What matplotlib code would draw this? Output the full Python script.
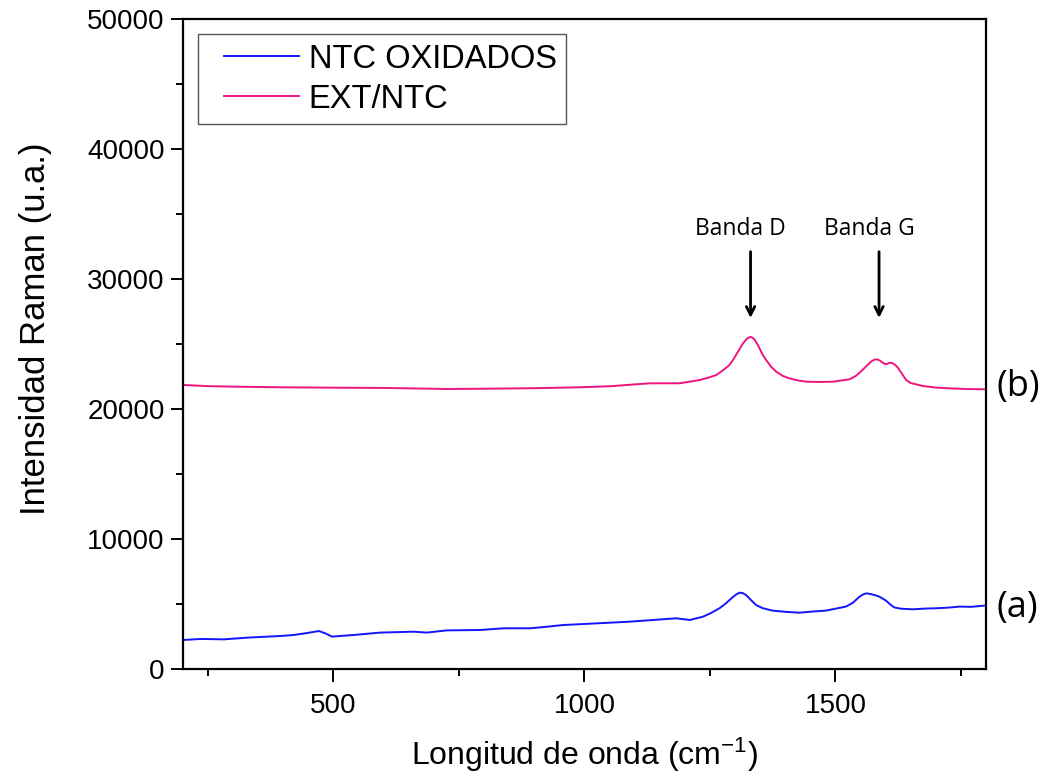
import matplotlib
matplotlib.use("Agg")
import matplotlib.pyplot as plt
from matplotlib.ticker import MultipleLocator
from matplotlib.legend_handler import HandlerLine2D

plt.rcParams["font.family"] = ["Liberation Sans", "DejaVu Sans"]
plt.rcParams["mathtext.fontset"] = "custom"
plt.rcParams["mathtext.rm"] = "Liberation Sans"
plt.rcParams["mathtext.it"] = "Liberation Sans:italic"

# Raman spectra: wavenumber (cm-1) and intensity (a.u.)
x_ox = [200, 236, 282, 328, 395, 421, 448, 471, 484, 497, 540, 593, 660, 686,
        726, 792, 839, 892, 925, 957, 1024, 1090, 1137, 1183, 1210, 1236, 1252,
        1269, 1282, 1293, 1302, 1309, 1316, 1322, 1332, 1342, 1355, 1375, 1400,
        1428, 1455, 1481, 1521, 1535, 1548, 1556, 1562, 1572, 1584, 1593, 1601,
        1609, 1617, 1630, 1654, 1680, 1700, 1725, 1747, 1770, 1796]
y_ox = [2230, 2310, 2280, 2410, 2540, 2615, 2770, 2920, 2740, 2490, 2615, 2800,
        2870, 2800, 2970, 3000, 3130, 3130, 3250, 3380, 3510, 3640, 3770, 3900,
        3770, 4020, 4300, 4670, 5050, 5440, 5720, 5870, 5830, 5690, 5300, 4920,
        4680, 4490, 4400, 4330, 4420, 4490, 4800, 5100, 5560, 5750, 5820, 5750,
        5620, 5450, 5250, 4980, 4740, 4640, 4590, 4650, 4670, 4720, 4800, 4780,
        4870]

x_ext = [200, 250, 300, 395, 500, 600, 726, 800, 900, 991, 1050, 1130, 1190,
         1230, 1250, 1263, 1275, 1288, 1296, 1305, 1316, 1324, 1331, 1338, 1346,
         1354, 1362, 1372, 1382, 1395, 1408, 1425, 1442, 1470, 1495, 1528, 1541,
         1554, 1563, 1571, 1578, 1583, 1589, 1594, 1601, 1606, 1611, 1617, 1623,
         1632, 1641, 1650, 1674, 1700, 1727, 1760, 1796]
y_ext = [21850, 21760, 21720, 21670, 21640, 21620, 21540, 21560, 21600, 21670,
         21750, 21975, 21980, 22230, 22450, 22615, 22950, 23350, 23770, 24350,
         25050, 25420, 25560, 25400, 24900, 24250, 23770, 23250, 22870, 22550,
         22360, 22200, 22100, 22080, 22100, 22280, 22550, 23000, 23350, 23640,
         23800, 23820, 23720, 23560, 23440, 23520, 23560, 23450, 23250, 22750,
         22230, 22000, 21770, 21650, 21590, 21540, 21515]

series_labels = ["NTC OXIDADOS", "EXT/NTC"]
band_labels = ["Banda D", "Banda G"]
band_pos = [1331, 1587]
arrow_top = 32100
arrow_tip = 27000
label_y = 33850

fig = plt.figure(figsize=(10.45, 7.76), dpi=100)
ax = fig.add_axes([0.175, 0.1379, 0.7685, 0.8376])

ax.plot(x_ox, y_ox, color="#1414ff", lw=1.4, label=series_labels[0])
ax.plot(x_ext, y_ext, color="#f0147f", lw=1.4, label=series_labels[1])

ax.set_xlim(200, 1800)
ax.set_ylim(0, 50000)
ax.xaxis.set_major_locator(MultipleLocator(500))
ax.xaxis.set_minor_locator(MultipleLocator(250))
ax.yaxis.set_major_locator(MultipleLocator(10000))
ax.yaxis.set_minor_locator(MultipleLocator(5000))

for s in ax.spines.values():
    s.set_linewidth(1.6)
ax.tick_params(which="major", direction="out", length=9, width=1.4,
               labelsize=20)
ax.tick_params(which="minor", direction="out", length=5, width=1.4)
ax.tick_params(axis="x", which="major", pad=8.5)
ax.tick_params(axis="y", which="major", pad=4)
ax.tick_params(top=False, right=False, which="both")

ax.set_xlabel("Longitud de onda (cm$^{-1}$)", fontsize=23, labelpad=12)
ax.set_ylabel("Intensidad Raman (u.a.)", fontsize=25)
ax.yaxis.set_label_coords(-0.163, 0.523)

# legend line sample starts a little in from the frame edge
line_handler = HandlerLine2D(xpad=0.5)
leg = ax.legend(loc="upper left", bbox_to_anchor=(0.0187, 0.977),
                borderaxespad=0, fontsize=23.5, handlelength=2.79,
                handletextpad=0.3, labelspacing=0.27, borderpad=0.3,
                fancybox=False, framealpha=1, edgecolor="#555555",
                handler_map={ln: line_handler for ln in ax.get_lines()})
leg.get_frame().set_linewidth(1.0)

for name, xp in zip(band_labels, band_pos):
    ax.annotate("", xy=(xp, arrow_tip), xytext=(xp, arrow_top),
                arrowprops=dict(arrowstyle="->,head_length=0.6,head_width=0.3",
                                lw=2, color="black", shrinkA=0, shrinkB=0))
    ax.text(xp - 20, label_y, name, family="Open Sans", fontsize=16.5,
            ha="center", va="center")

ax.text(1.013, 21700 / 50000, "(b)", transform=ax.transAxes,
        family="Open Sans", fontsize=26, ha="left", va="center")
ax.text(1.013, 4700 / 50000, "(a)", transform=ax.transAxes,
        family="Open Sans", fontsize=26, ha="left", va="center")

fig.savefig("out.png", dpi=100)
